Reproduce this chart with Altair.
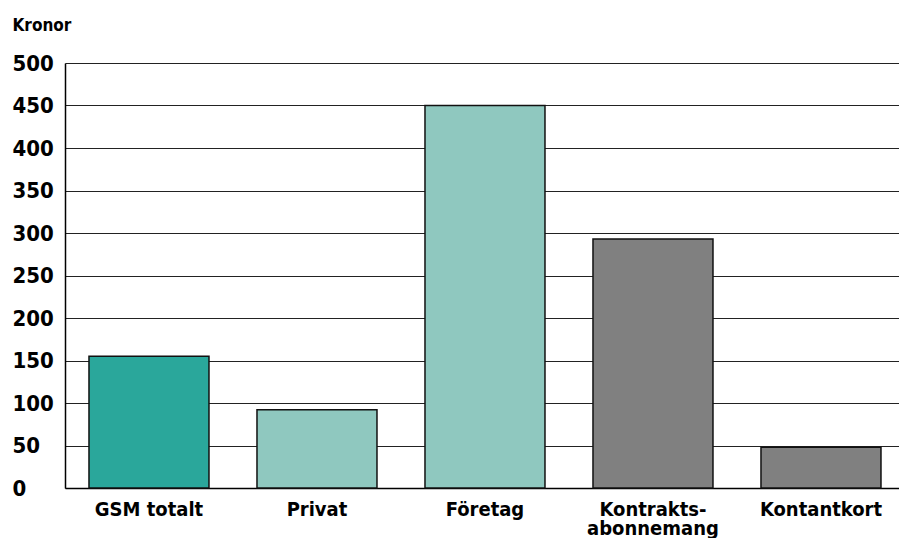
import altair as alt
import pandas as pd

categories = ["GSM totalt", "Privat", "Företag", "Kontrakts-|abonnemang", "Kontantkort"]
values = [155, 92, 450, 293, 48]
colors = ["#2aa79b", "#8fc8bf", "#8fc8bf", "#808080", "#808080"]

df = pd.DataFrame({"cat": categories, "val": values, "col": colors})

FONT = "DejaVu Sans Condensed, Roboto, sans-serif"

chart = alt.Chart(df).mark_bar(stroke="#111111", strokeWidth=1.5).encode(
    x=alt.X("cat:N", sort=categories, title=None,
            scale=alt.Scale(paddingInner=0.2857, paddingOuter=0.125, align=0.571),
            axis=alt.Axis(labelAngle=0, labelFont=FONT, labelFontWeight="bold",
                          labelFontSize=20, labelColor="#000", labelPadding=11,
                          labelExpr="split(datum.label, '|')", labelLineHeight=19,
                          ticks=False, domainColor="#000", domainWidth=1.5, grid=False)),
    y=alt.Y("val:Q", title="Kronor",
            scale=alt.Scale(domain=[0, 500]),
            axis=alt.Axis(values=list(range(0, 501, 50)), labelFont=FONT,
                          labelFontWeight="bold", labelFontSize=22, labelColor="#000",
                          labelAlign="left", labelPadding=53, ticks=False,
                          domainColor="#000", domainWidth=1.5,
                          gridColor="#222", gridWidth=1.2,
                          titleFont=FONT, titleFontWeight="bold", titleFontSize=17,
                          titleColor="#000", titleAngle=0, titleAlign="left",
                          titleBaseline="alphabetic", titleX=-53, titleY=-33)),
    color=alt.Color("col:N", scale=None),
).properties(
    width=834, height=425, padding={"left": 57, "top": 55, "right": 0, "bottom": 50},
    autosize=alt.AutoSizeParams(type="none"),
).configure_view(stroke=None)

chart.save("out.html", embed_options={"renderer": "svg", "actions": False})
